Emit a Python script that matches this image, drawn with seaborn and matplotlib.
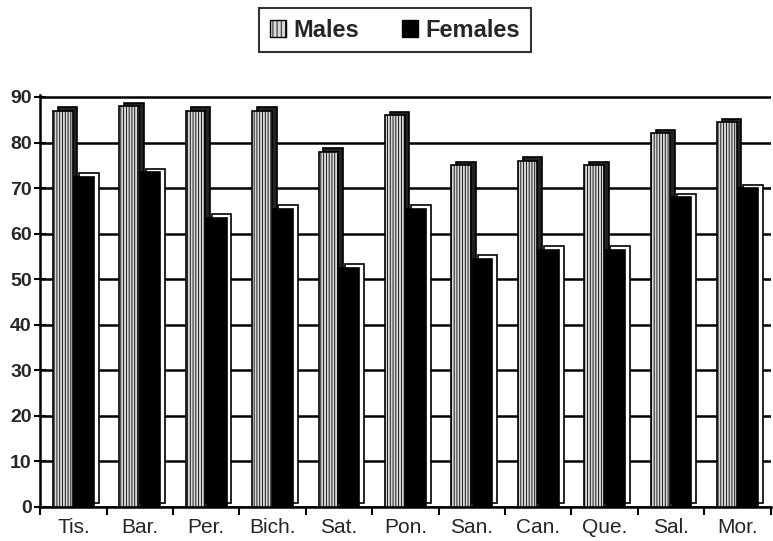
import pandas as pd
import seaborn as sns
from matplotlib import pyplot as plt
from matplotlib import patheffects as pe
from matplotlib.patches import Patch

towns = ['Tis.', 'Bar.', 'Per.', 'Bich.', 'Sat.', 'Pon.', 'San.', 'Can.', 'Que.', 'Sal.', 'Mor.']
males = [87, 88, 87, 87, 78, 86, 75, 76, 75, 82, 84.5]
females = [72.5, 73.5, 63.5, 65.5, 52.5, 65.5, 54.5, 56.5, 56.5, 68, 70]

df = pd.DataFrame({'Town': towns * 2,
                   'Value': males + females,
                   'Sex': ['Males'] * len(towns) + ['Females'] * len(towns)})

sns.set_style('white')
plt.rcParams['font.family'] = ['Liberation Sans', 'DejaVu Sans']
plt.rcParams['hatch.color'] = 'black'
plt.rcParams['hatch.linewidth'] = 0.6

fig = plt.figure(figsize=(7.73, 5.41), dpi=100)
ax = fig.add_axes([0.052, 0.063, 0.945, 0.762])

sns.barplot(data=df, x='Town', y='Value', hue='Sex', order=towns,
            hue_order=['Males', 'Females'], width=0.64, gap=0.08,
            palette={'Males': '#d8d8d8', 'Females': 'black'},
            edgecolor='black', linewidth=1.2, legend=False, ax=ax, zorder=3)

# fake 3d depth
for bar in ax.containers[0]:
    bar.set_hatch('||||||')
    bar.set_path_effects([pe.PathPatchEffect(offset=(3.5, 2.5), facecolor='#222222', edgecolor='black', linewidth=1.2),
                          pe.Normal()])
for bar in ax.containers[1]:
    bar.set_path_effects([pe.PathPatchEffect(offset=(3.5, 2.5), facecolor='white', edgecolor='black', linewidth=1.2),
                          pe.Normal()])

ax.set_ylim(0, 90.5)
ax.set_xlim(-0.5, len(towns) - 0.5)
ax.set_yticks(range(0, 91, 10))
ax.yaxis.grid(True, color='black', linewidth=1.8, zorder=0)
ax.set_axisbelow(True)
ax.set_xlabel('')
ax.set_ylabel('')

ax.set_xticks([i - 0.5 for i in range(len(towns) + 1)], minor=True)
ax.tick_params(axis='x', which='major', length=0, labelsize=15, pad=8)
ax.tick_params(axis='x', which='minor', length=6, width=1.5, direction='out', color='black', bottom=True)
ax.tick_params(axis='y', length=8, width=1.5, direction='inout', color='black', labelsize=14, pad=2, left=True)
for lab in ax.get_yticklabels():
    lab.set_fontweight('bold')

for s in ['top', 'right']:
    ax.spines[s].set_visible(False)
for s in ['left', 'bottom']:
    ax.spines[s].set_color('black')
    ax.spines[s].set_linewidth(1.8)

handles = [Patch(facecolor='#d8d8d8', edgecolor='black', hatch='||||', label='Males'),
           Patch(facecolor='black', edgecolor='black', label='Females')]
leg = fig.legend(handles=handles, loc='upper center', bbox_to_anchor=(0.511, 0.985), ncol=2,
                 prop={'weight': 'bold', 'size': 17}, frameon=True, fancybox=False,
                 handlelength=0.7, handleheight=0.7, handletextpad=0.3, columnspacing=1.8,
                 borderpad=0.45, borderaxespad=0)
leg.get_frame().set_edgecolor('black')
leg.get_frame().set_linewidth(1.5)

fig.savefig('out.png', dpi=100)
